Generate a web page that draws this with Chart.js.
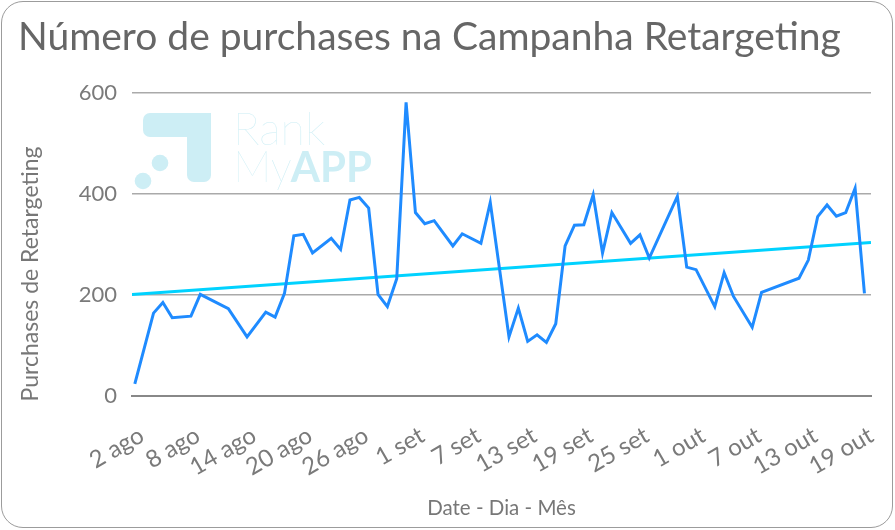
<!DOCTYPE html>
<html><head><meta charset="utf-8">
<script src="https://cdn.jsdelivr.net/npm/chart.js@4.4.0/dist/chart.umd.min.js"></script>
<style>
html,body{margin:0;padding:0;background:#fff;}
#wrap{position:relative;width:895px;height:530px;overflow:hidden;}
#card{position:absolute;left:1px;top:1px;width:892px;height:527px;border:1.5px solid #9c9c9c;border-radius:22px;box-sizing:border-box;}
canvas{position:absolute;left:0;top:0;}
</style></head>
<body><div id="wrap"><div id="card"></div><canvas id="c" width="895" height="530"></canvas></div>
<script>
// ---- data ----
const chartTitle = 'Número de purchases na Campanha Retargeting';
const yAxisTitle = 'Purchases de Retargeting';
const xAxisTitle = 'Date - Dia - Mês';
const logoWords = ['Rank', 'My', 'APP'];
const startDate = '08-02';
const tickDates = ['08-02','08-08','08-14','08-20','08-26','09-01','09-07','09-13','09-19','09-25','10-01','10-07','10-13','10-19'];
const tickLabels = ['2 ago','8 ago','14 ago','20 ago','26 ago','1 set','7 set','13 set','19 set','25 set','1 out','7 out','13 out','19 out'];
const pointDates = ['08-02','08-04','08-05','08-06','08-08','08-09','08-12','08-14','08-16','08-17',
  '08-18','08-19','08-20','08-21','08-23','08-24','08-25','08-26','08-27','08-28',
  '08-29','08-30','08-31','09-01','09-02','09-03','09-05','09-06','09-08','09-09',
  '09-11','09-12','09-13','09-14','09-15','09-16','09-17','09-18','09-19','09-20',
  '09-21','09-22','09-24','09-25','09-26','09-29','09-30','10-01','10-03','10-04',
  '10-05','10-07','10-08','10-12','10-13','10-14','10-15','10-16','10-17','10-18','10-19'];
const purchases = [24,164,185,155,158,201,173,117,166,156,
  203,317,320,283,312,290,388,393,372,201,
  177,232,581,363,341,347,297,321,302,383,
  117,174,108,121,106,143,297,338,339,398,
  283,363,302,319,273,395,255,250,177,244,
  197,136,205,233,269,355,378,356,363,411,203];
const trendValues = [201, 304]; // trend line at left and right edge of the axis
const yTicks = [0, 200, 400, 600];

// ---- helpers ----
function dayOf(s){
  const [m,d] = s.split('-').map(Number);
  const [m0,d0] = startDate.split('-').map(Number);
  return Math.round((Date.UTC(2000,m-1,d) - Date.UTC(2000,m0-1,d0)) / 86400000);
}
const X_MIN = -0.3, X_MAX = 78.7;
const FONT = 'Lato, "Open Sans", sans-serif';

const logoPlugin = {
  id: 'logo',
  beforeDatasetsDraw(chart){
    const ctx = chart.ctx;
    ctx.save();
    ctx.fillStyle = '#cdeef5';
    ctx.beginPath();
    ctx.roundRect(143, 113, 68, 24, [7,0,0,7]);
    ctx.fill();
    ctx.beginPath();
    ctx.roundRect(187, 113, 24, 69, [0,7,7,7]);
    ctx.fill();
    ctx.beginPath(); ctx.arc(160, 163, 8.3, 0, Math.PI*2); ctx.fill();
    ctx.beginPath(); ctx.arc(143, 181, 8.3, 0, Math.PI*2); ctx.fill();
    ctx.textBaseline = 'alphabetic';
    ctx.textAlign = 'left';
    ctx.font = '200 45px ' + FONT;
    ctx.fillText(logoWords[0], 233, 145);
    ctx.font = '200 43px ' + FONT;
    ctx.fillText(logoWords[1], 233, 182);
    const w = ctx.measureText(logoWords[1]).width;
    ctx.font = '700 42px ' + FONT;
    ctx.fillText(logoWords[2], 232 + w, 182);
    ctx.restore();
  }
};

const yTitlePlugin = {
  id: 'ytitle',
  afterDraw(chart){
    const ctx = chart.ctx;
    ctx.save();
    ctx.translate(31, 274);
    ctx.rotate(-Math.PI/2);
    ctx.font = '400 23px ' + FONT;
    ctx.fillStyle = '#777';
    ctx.textAlign = 'center';
    ctx.textBaseline = 'middle';
    ctx.fillText(yAxisTitle, 0, 0);
    ctx.restore();
  }
};

new Chart(document.getElementById('c'), {
  type: 'line',
  data: {
    datasets: [
      {
        label: 'Purchases',
        data: pointDates.map((d,i) => ({x: dayOf(d), y: purchases[i]})),
        borderColor: '#1f8bff',
        borderWidth: 3,
        pointRadius: 0,
        tension: 0,
        order: 1
      },
      {
        label: 'Tendência',
        data: [{x: X_MIN, y: trendValues[0]}, {x: X_MAX, y: trendValues[1]}],
        borderColor: '#00d2ff',
        borderWidth: 3,
        pointRadius: 0,
        order: 2
      }
    ]
  },
  options: {
    responsive: false,
    animation: false,
    layout: { padding: { left: 18, right: 24, top: 14, bottom: 6 } },
    plugins: {
      legend: { display: false },
      tooltip: { enabled: false },
      title: {
        display: true,
        text: chartTitle,
        align: 'start',
        color: '#666',
        font: { family: FONT, size: 39, weight: '400' },
        padding: { top: 0, bottom: 32 }
      }
    },
    scales: {
      x: {
        type: 'linear',
        min: X_MIN, max: X_MAX,
        afterBuildTicks(scale){ scale.ticks = tickDates.map(d => ({value: dayOf(d)})); },
        afterFit(scale){ scale.height = 128; scale.paddingLeft = 0; scale.paddingRight = 0; },
        grid: { display: false, drawTicks: false },
        border: { display: true, color: '#888', width: 2 },
        ticks: {
          autoSkip: false,
          minRotation: 30, maxRotation: 30,
          padding: 25,
          labelOffset: 7,
          color: '#7a7a7a',
          font: { family: FONT, size: 24, weight: '400' },
          callback: (v, i) => tickLabels[i]
        },
        title: {
          display: true,
          text: xAxisTitle,
          color: '#777',
          font: { family: FONT, size: 20.5, weight: '400' },
          padding: { top: 0, bottom: 3 }
        }
      },
      y: {
        min: 0, max: 600,
        afterBuildTicks(scale){ scale.ticks = yTicks.map(v => ({value: v})); },
        afterFit(scale){ scale.width = 114; },
        grid: { color: '#aaa', lineWidth: 1.5, drawTicks: false },
        border: { display: false },
        ticks: {
          padding: 15,
          color: '#7a7a7a',
          font: { family: FONT, size: 22, weight: '400' }
        }
      }
    }
  },
  plugins: [logoPlugin, yTitlePlugin]
});
</script>
</body></html>
